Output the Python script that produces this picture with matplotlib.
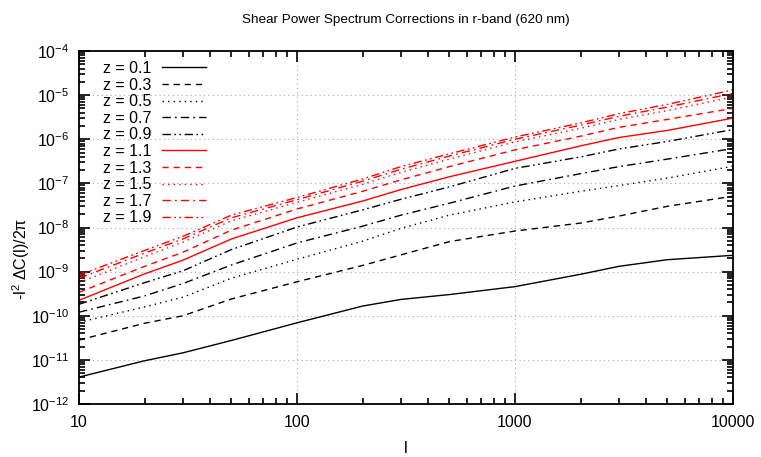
import numpy as np
import matplotlib
matplotlib.use("Agg")
import matplotlib.pyplot as plt
from matplotlib.ticker import LogLocator, FixedLocator, FixedFormatter, NullFormatter

plt.rcParams['font.family'] = ['Liberation Sans', 'DejaVu Sans']
plt.rcParams['mathtext.default'] = 'regular'
plt.rcParams['axes.unicode_minus'] = False

# multipole values and log10 of -l^2 dC(l)/2pi
ell = [10, 20, 30, 50, 100, 200, 300, 500, 1000, 2000, 3000, 5000, 10000]
redshifts = ["0.1", "0.3", "0.5", "0.7", "0.9", "1.1", "1.3", "1.5", "1.7", "1.9"]
log_z01 = [-11.39, -11.02, -10.84, -10.56, -10.16, -9.78, -9.63, -9.52, -9.34, -9.06, -8.88, -8.73, -8.63]
log_z03 = [-10.55, -10.17, -10.00, -9.62, -9.23, -8.86, -8.62, -8.32, -8.08, -7.90, -7.74, -7.52, -7.29]
log_z05 = [-10.15, -9.80, -9.58, -9.15, -8.72, -8.31, -8.02, -7.72, -7.42, -7.18, -7.05, -6.88, -6.61]
log_z07 = [-9.92, -9.55, -9.27, -8.85, -8.35, -7.97, -7.72, -7.45, -7.06, -6.78, -6.62, -6.45, -6.21]
log_z09 = [-9.74, -9.25, -8.98, -8.50, -7.99, -7.60, -7.36, -7.08, -6.66, -6.40, -6.22, -6.05, -5.78]
log_z11 = [-9.65, -9.05, -8.74, -8.26, -7.78, -7.40, -7.14, -6.85, -6.50, -6.15, -5.96, -5.80, -5.52]
log_z13 = [-9.47, -8.88, -8.56, -8.06, -7.58, -7.18, -6.92, -6.62, -6.24, -5.93, -5.73, -5.55, -5.30]
log_z15 = [-9.25, -8.66, -8.33, -7.85, -7.43, -7.02, -6.75, -6.45, -6.06, -5.75, -5.55, -5.35, -5.04]
log_z17 = [-9.15, -8.58, -8.26, -7.78, -7.37, -6.95, -6.68, -6.38, -6.00, -5.68, -5.48, -5.27, -4.96]
log_z19 = [-9.08, -8.52, -8.20, -7.72, -7.32, -6.90, -6.62, -6.33, -5.95, -5.63, -5.42, -5.21, -4.88]

series = [log_z01, log_z03, log_z05, log_z07, log_z09,
          log_z11, log_z13, log_z15, log_z17, log_z19]

# gnuplot-like dash patterns (solid, dash, dot, dash-dot, dash-dot-dot)
styles = ['-', (0, (4.5, 3.5)), (0, (1.0, 3.0)), (0, (6, 3, 1.2, 3)), (0, (6, 2.5, 1.2, 2.5, 1.2, 2.5))]

fig = plt.figure(figsize=(7.61, 4.57), dpi=100)
ax = fig.add_axes([79 / 761, 53 / 457, 654 / 761, 353 / 457])

for i, (z, vals) in enumerate(zip(redshifts, series)):
    color = 'black' if i < 5 else 'red'
    ax.plot(ell, 10 ** np.array(vals), color=color, lw=1.0,
            linestyle=styles[i % 5], label=f"z = {z}")

ax.set_xscale('log')
ax.set_yscale('log')
ax.set_xlim(10, 10000)
ax.set_ylim(1e-12, 1e-4)

ax.xaxis.set_major_locator(FixedLocator([10, 100, 1000, 10000]))
ax.xaxis.set_major_formatter(FixedFormatter(["10", "100", "1000", "10000"]))
ax.xaxis.set_minor_locator(LogLocator(base=10, subs=np.arange(2, 10), numticks=20))
ax.xaxis.set_minor_formatter(NullFormatter())
ax.yaxis.set_major_locator(LogLocator(base=10, numticks=20))
ax.yaxis.set_minor_locator(LogLocator(base=10, subs=np.arange(2, 10), numticks=20))
ax.yaxis.set_minor_formatter(NullFormatter())

ax.tick_params(which='both', direction='in', top=True, right=True, labelsize=11.5, width=1.2)
ax.tick_params(axis='x', which='major', pad=8)
ax.tick_params(axis='y', which='major', pad=7)
ax.tick_params(which='major', length=8)
ax.tick_params(which='minor', length=4)
for sp in ax.spines.values():
    sp.set_linewidth(1.3)

ax.grid(True, which='major', color='#a8a8a8', linestyle=(0, (1, 3)), linewidth=0.8)

ax.set_title("Shear Power Spectrum Corrections in r-band (620 nm)", fontsize=9.7, pad=20.5)
ax.set_xlabel("l", fontsize=11.5, labelpad=8)
ax.set_ylabel(r"-l$^2$ ΔC(l)/2π", fontsize=11.5)
ax.yaxis.set_label_coords(-0.072, 0.41)

leg = ax.legend(loc='upper left', bbox_to_anchor=((103 - 79) / 654, (404 - 61) / 353),
                frameon=False, markerfirst=False, handlelength=2.8, labelspacing=0.1,
                fontsize=11.5, borderpad=0, borderaxespad=0, handletextpad=0.65)

fig.savefig("out.png", dpi=100)
